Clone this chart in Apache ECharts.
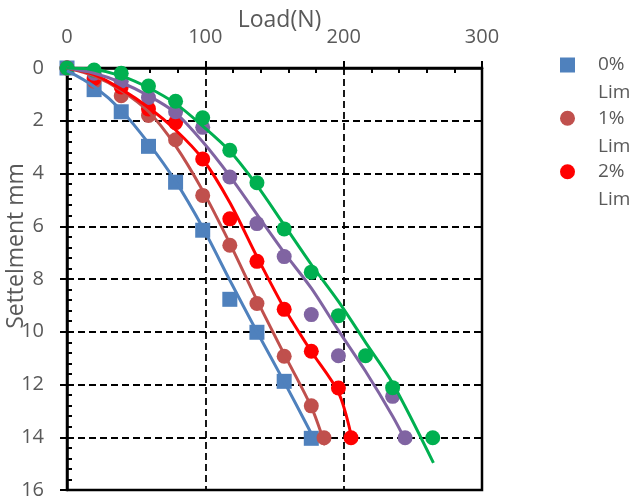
<!DOCTYPE html>
<html>
<head>
<meta charset="utf-8">
<script src="https://cdn.jsdelivr.net/npm/echarts@6/dist/echarts.min.js"></script>
<style>
  html, body { margin: 0; padding: 0; background: #fff; }
  #chart { width: 635px; height: 504px; }
</style>
</head>
<body>
<div id="chart"></div>
<script>
// Plate load test: settlement (mm) against applied load (N) for five lime contents.
const seriesNames = ['0% Lim', '1% Lim', '2% Lim', '3% Lim', '4% Lim'];
const seriesColors = ['#4F81BD', '#C0504D', '#FF0000', '#8064A2', '#00B050'];

const xTicks = [0, 100, 200, 300];
const yTicks = [0, 2, 4, 6, 8, 10, 12, 14, 16];

// Measured points
const load0 = [0, 19.6, 39.2, 58.9, 78.5, 98.1, 117.7, 137.3, 157.0, 176.6];
const settle0 = [0, 0.82, 1.66, 2.97, 4.33, 6.15, 8.77, 10.02, 11.88, 14.04];

const load1 = [0, 19.6, 39.2, 58.9, 78.5, 98.1, 117.7, 137.3, 157.0, 176.6, 185.8];
const settle1 = [0, 0.5, 1.05, 1.8, 2.72, 4.83, 6.72, 8.93, 10.93, 12.81, 14.02];

const load2 = [0, 19.6, 39.2, 58.9, 78.5, 98.1, 117.7, 137.3, 157.0, 176.6, 196.2, 205.3];
const settle2 = [0, 0.4, 0.72, 1.55, 2.07, 3.45, 5.72, 7.33, 9.15, 10.74, 12.13, 14.02];

const load3 = [0, 19.6, 39.2, 58.9, 78.5, 98.1, 117.7, 137.3, 157.0, 176.6, 196.2, 235.4, 244.4];
const settle3 = [0, 0.2, 0.5, 1.12, 1.66, 2.25, 4.13, 5.9, 7.15, 9.35, 10.91, 12.45, 14.02];

const load4 = [0, 19.6, 39.2, 58.9, 78.5, 98.1, 117.7, 137.3, 157.0, 176.6, 196.2, 215.8, 235.4, 264.4];
const settle4 = [0, 0.08, 0.2, 0.68, 1.26, 1.89, 3.12, 4.35, 6.1, 7.74, 9.39, 10.91, 12.12, 14.02];

// Trend curves
const trendLoad0 = [0, 19.6, 39.2, 58.9, 78.5, 98.1, 117.7, 137.3, 157.0, 178.0];
const trendSettle0 = [0.1, 0.7, 1.6, 2.85, 4.3, 6.05, 8.05, 10.0, 11.9, 14.0];

const trendLoad1 = [0, 19.6, 39.2, 58.9, 78.5, 98.1, 117.7, 137.3, 157.0, 176.6, 186.6];
const trendSettle1 = [0, 0.3, 0.85, 1.65, 2.95, 4.65, 6.65, 8.8, 10.85, 12.85, 14.3];

const trendLoad2 = [0, 19.6, 39.2, 58.9, 78.5, 98.1, 117.7, 137.3, 157.0, 176.6, 196.2, 205.3];
const trendSettle2 = [0, 0.25, 0.8, 1.5, 2.35, 3.45, 5.1, 7.15, 9.1, 10.75, 12.3, 13.9];

const trendLoad3 = [0, 19.6, 39.2, 58.9, 78.5, 98.1, 117.7, 137.3, 157.0, 176.6, 196.2, 215.8, 235.4, 245.5];
const trendSettle3 = [0, 0.2, 0.55, 1.05, 1.7, 2.8, 4.1, 5.55, 7.0, 8.35, 9.95, 11.5, 13.2, 14.2];

const trendLoad4 = [0, 19.6, 39.2, 58.9, 78.5, 98.1, 117.7, 137.3, 157.0, 176.6, 196.2, 215.8, 235.4, 264.9];
const trendSettle4 = [0, 0.05, 0.3, 0.75, 1.35, 2.2, 3.15, 4.45, 5.95, 7.45, 8.85, 10.4, 11.95, 14.97];

const pointLoads = [load0, load1, load2, load3, load4];
const pointSettles = [settle0, settle1, settle2, settle3, settle4];
const trendLoads = [trendLoad0, trendLoad1, trendLoad2, trendLoad3, trendLoad4];
const trendSettles = [trendSettle0, trendSettle1, trendSettle2, trendSettle3, trendSettle4];

const pair = (xs, ys) => xs.map((x, i) => [x, ys[i]]);

const FONT = 'Open Sans';
const TEXT = '#595959';
const squareIcon = 'path://M0,0H10V10H0Z';

const chart = echarts.init(document.getElementById('chart'), null, { renderer: 'canvas' });

const scatterSeries = seriesNames.map((name, i) => ({
  name: name,
  type: 'scatter',
  data: pair(pointLoads[i], pointSettles[i]),
  symbol: i === 0 ? 'rect' : 'circle',
  symbolSize: 15,
  itemStyle: { color: seriesColors[i], opacity: 1 },
  z: 3,
  silent: true
}));

const trendSeries = seriesNames.map((name, i) => ({
  name: name + ' trend',
  type: 'line',
  data: pair(trendLoads[i], trendSettles[i]),
  showSymbol: false,
  smooth: 0.3,
  lineStyle: { color: seriesColors[i], width: 3 },
  z: 4,
  silent: true
}));

// Each legend entry wraps onto two lines; the leading blank line keeps the
// first line level with the marker.
const legendTops = [23, 76.3, 129.7];
const legends = seriesNames.slice(0, 3).map((name, i) => ({
  data: [{ name: name, icon: i === 0 ? squareIcon : 'circle' }],
  orient: 'vertical',
  left: 560,
  top: legendTops[i],
  padding: 0,
  itemWidth: 15,
  itemHeight: 15,
  selectedMode: false,
  formatter: n => '\n' + n.replace(' ', '\n'),
  textStyle: {
    color: TEXT, fontSize: 19, fontFamily: FONT, lineHeight: 28,
    padding: [0, 0, 0, 18]
  }
}));

const dashed = { color: '#000', type: [7, 4], width: 1.8 };

const option = {
  animation: false,
  backgroundColor: '#fff',
  grid: {
    left: 67, top: 68, width: 415, height: 422,
    outerBoundsMode: 'none', containLabel: false,
    show: true, borderColor: '#000', borderWidth: 2.5, backgroundColor: 'transparent'
  },
  legend: legends,
  xAxis: [
    {
      type: 'value', position: 'top', min: xTicks[0], max: xTicks[xTicks.length - 1], interval: 100,
      name: 'Load(N)', nameLocation: 'middle', nameGap: 36, nameMoveOverlap: false,
      nameTextStyle: { color: TEXT, fontSize: 23, fontFamily: FONT, padding: [0, 0, 0, 10] },
      axisLine: { show: true, onZero: false, lineStyle: { color: '#000', width: 2.5 } },
      axisTick: { show: true, length: 7, lineStyle: { color: '#000', width: 2 } },
      minorTick: { show: false },
      axisLabel: { color: TEXT, fontSize: 20, fontFamily: FONT, margin: 21 },
      splitLine: { show: true, lineStyle: dashed }
    },
    {
      type: 'value', position: 'top', min: xTicks[0], max: xTicks[xTicks.length - 1], interval: 100,
      axisLine: { show: false },
      axisTick: { show: false, inside: true },
      minorTick: { show: true, splitNumber: 5, length: 5, lineStyle: { color: '#000', width: 2 } },
      axisLabel: { show: false },
      splitLine: { show: false }
    }
  ],
  yAxis: [
    {
      type: 'value', position: 'left', inverse: true, min: yTicks[0], max: yTicks[yTicks.length - 1], interval: 2,
      name: 'Settelment mm', nameLocation: 'middle', nameGap: 39, nameMoveOverlap: false,
      nameTextStyle: { color: TEXT, fontSize: 23, fontFamily: FONT, padding: [0, 0, 0, 66] },
      axisLine: { show: true, onZero: false, lineStyle: { color: '#000', width: 2.5 } },
      axisTick: { show: true, length: 7, lineStyle: { color: '#000', width: 2 } },
      minorTick: { show: false },
      axisLabel: { color: TEXT, fontSize: 20, fontFamily: FONT, margin: 23 },
      splitLine: { show: true, lineStyle: dashed }
    },
    {
      type: 'value', position: 'left', inverse: true, min: yTicks[0], max: yTicks[yTicks.length - 1], interval: 2,
      axisLine: { show: false },
      axisTick: { show: false, inside: true },
      minorTick: { show: true, splitNumber: 5, length: 5, lineStyle: { color: '#000', width: 2 } },
      axisLabel: { show: false },
      splitLine: { show: false }
    }
  ],
  series: scatterSeries.concat(trendSeries)
};

chart.setOption(option);
</script>
</body>
</html>
